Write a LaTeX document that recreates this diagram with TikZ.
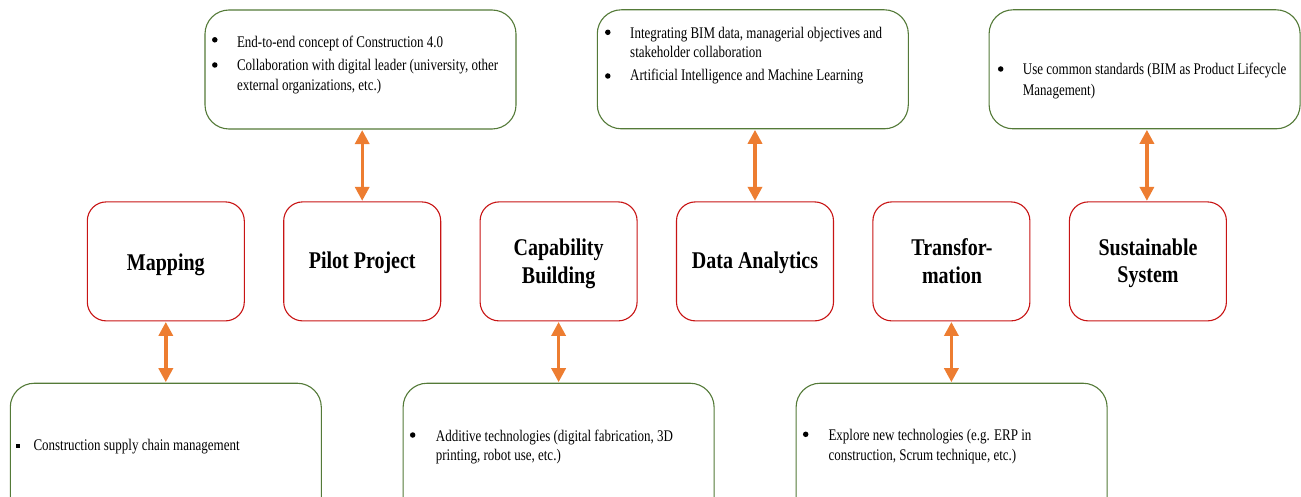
\documentclass[tikz,border=0pt]{standalone}
\usepackage{fontspec}
\setmainfont{Liberation Serif}
\usetikzlibrary{arrows.meta}
\definecolor{boxred}{RGB}{200,20,20}
\definecolor{boxgreen}{RGB}{84,122,56}
\definecolor{arroworange}{RGB}{237,125,49}
\tikzset{
  redbox/.style={draw=boxred, line width=1.1pt, rounded corners=19pt, fill=white,
    minimum width=157pt, minimum height=119pt, inner sep=0pt},
  greenbox/.style={draw=boxgreen, line width=1.1pt, rounded corners=24pt, fill=white,
    minimum width=311pt, minimum height=119pt, inner sep=0pt},
  bigbox/.style={greenbox, minimum height=160pt},
  lab/.style={anchor=base, inner sep=0pt, font=\bfseries\fontsize{20}{24}\selectfont, yscale=1.2},
  txt/.style={anchor=base west, inner sep=0pt, font=\fontsize{13}{15}\selectfont, yscale=1.25},
  dot/.style={circle, fill=black, inner sep=0pt, minimum size=5.5pt},
  sq/.style={rectangle, fill=black, inner sep=0pt, minimum size=3.5pt},
  link/.style={draw=arroworange, line width=3.4pt, {Triangle[width=14pt,length=14pt]}-{Triangle[width=14pt,length=14pt]}, shorten <=0.5pt, shorten >=0.5pt}
}
\begin{document}
\begin{tikzpicture}[x=1pt, y=-1pt]
\useasboundingbox (0,0) rectangle (1301,497);
\clip (0,0) rectangle (1301,497);

% top boxes
\node[greenbox] (top1) at (360.5,69.5) {};
\node[greenbox] (top2) at (752.8,69.3) {};
\node[greenbox] (top3) at (1144.6,69.3) {};

% middle boxes
\node[redbox] (map) at (165.8,261.4) {};
\node[redbox] (pil) at (362.2,261.4) {};
\node[redbox] (cap) at (558.6,261.4) {};
\node[redbox] (dat) at (755.0,261.4) {};
\node[redbox] (tra) at (951.4,261.4) {};
\node[redbox] (sus) at (1147.9,261.4) {};

% bottom boxes
\node[bigbox, anchor=north] (bot1) at (165.8,382.7) {};
\node[bigbox, anchor=north] (bot2) at (558.6,382.7) {};
\node[bigbox, anchor=north] (bot3) at (951.6,382.7) {};

% middle labels
\node[lab] (lmap) at (165.8,270.5) {Mapping};
\node[lab] (lpil) at (362.2,269.0) {Pilot Project};
\node[lab] (lcap1) at (558.6,255.0) {Capability};
\node[lab] (lcap2) at (558.6,283.0) {Building};
\node[lab] (ldat) at (755.0,268.3) {Data Analytics};
\node[lab] (ltra1) at (952.0,255.0) {Transfor-};
\node[lab] (ltra2) at (952.0,283.0) {mation};
\node[lab] (lsus1) at (1148.0,255.0) {Sustainable};
\node[lab] (lsus2) at (1148.0,282.7) {System};

% top box 1 text
\node[dot] (d1a) at (214.8,39.8) {};
\node[txt] (t1a) at (236.8,47.7) {End-to-end concept of Construction 4.0};
\node[dot] (d1b) at (214.8,65.0) {};
\node[txt] (t1b) at (236.8,70.7) {Collaboration with digital leader (university, other};
\node[txt] (t1c) at (236.8,91.0) {external organizations, etc.)};

% top box 2 text
\node[dot] (d2a) at (607.8,32.3) {};
\node[txt] (t2a) at (630.0,38.3) {Integrating BIM data, managerial objectives and};
\node[txt] (t2b) at (630.0,57.3) {stakeholder collaboration};
\node[dot] (d2b) at (607.8,76.0) {};
\node[txt] (t2c) at (630.0,81.0) {Artificial Intelligence and Machine Learning};

% top box 3 text
\node[dot] (d3a) at (1000.7,69.0) {};
\node[txt] (t3a) at (1022.7,75.0) {Use common standards (BIM as Product Lifecycle};
\node[txt] (t3b) at (1022.7,96.0) {Management)};

% bottom box 1 text
\node[sq] (s4a) at (18.0,446.0) {};
\node[txt] (t4a) at (33.3,450.0) {Construction supply chain management};

% bottom box 2 text
\node[dot] (d5a) at (412.7,435.0) {};
\node[txt] (t5a) at (435.7,441.7) {Additive technologies (digital fabrication, 3D};
\node[txt] (t5b) at (435.7,460.7) {printing, robot use, etc.)};

% bottom box 3 text
\node[dot] (d6a) at (805.7,434.3) {};
\node[txt] (t6a) at (828.3,440.0) {Explore new technologies (e.g. ERP in};
\node[txt] (t6b) at (828.3,460.0) {construction, Scrum technique, etc.)};

% connectors
\draw[link] (top1.south -| pil.north) -- (pil.north);
\draw[link] (top2.south -| dat.north) -- (dat.north);
\draw[link] ([xshift=-1pt]top3.south -| sus.north) -- ([xshift=-1pt]sus.north);
\draw[link] (map.south) -- (map.south |- bot1.north);
\draw[link] (cap.south) -- (cap.south |- bot2.north);
\draw[link] (tra.south) -- (tra.south |- bot3.north);
\end{tikzpicture}
\end{document}
